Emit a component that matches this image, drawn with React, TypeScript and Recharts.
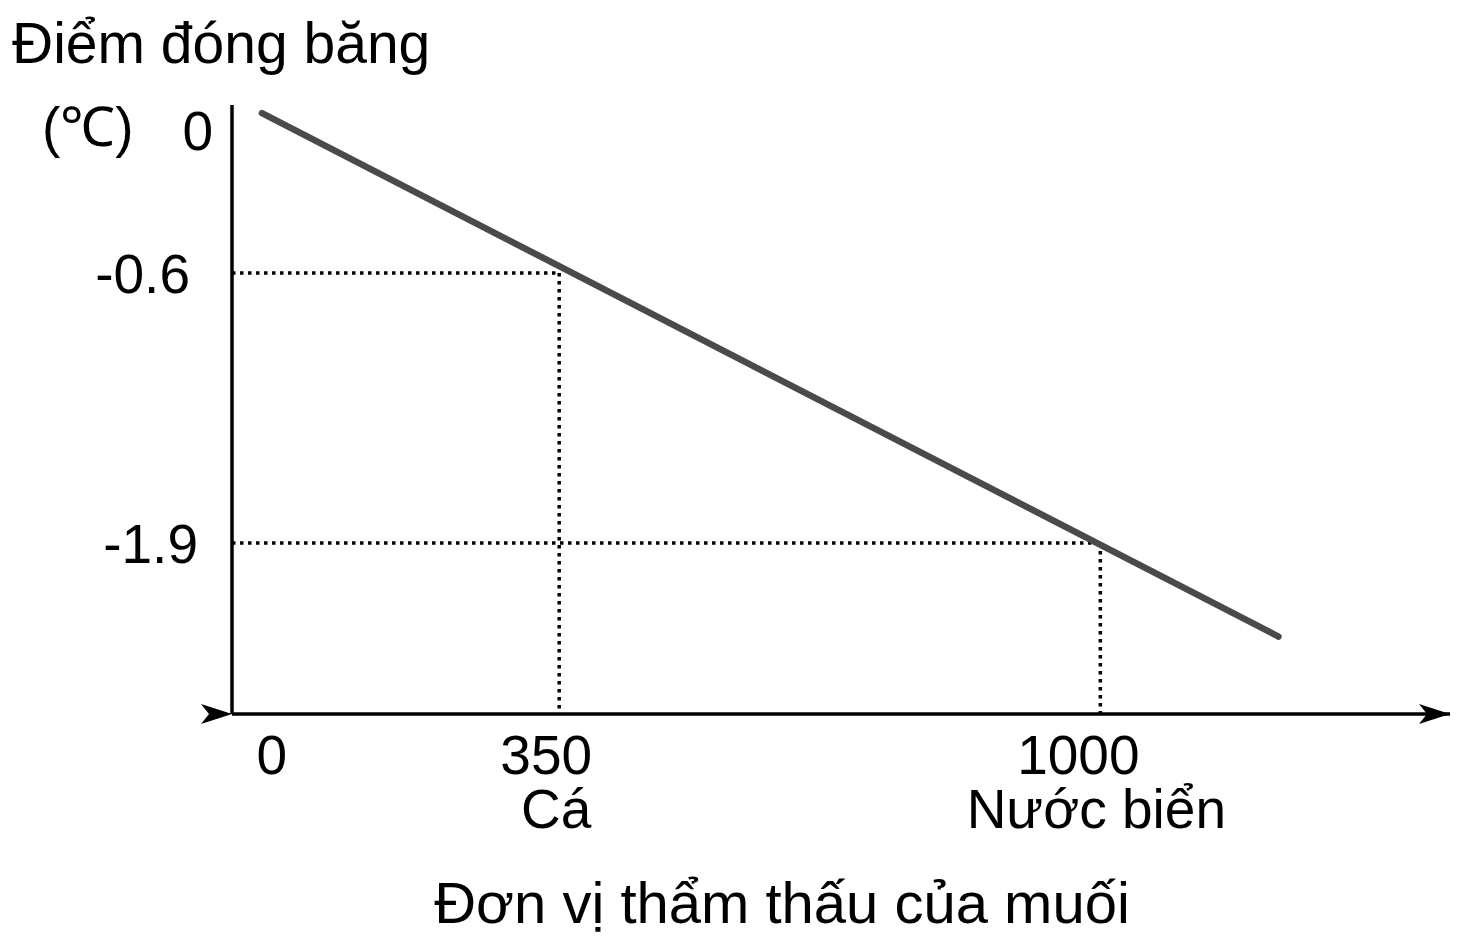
import { LineChart, Line, XAxis, YAxis, ReferenceLine, Label } from 'recharts';

// freezing-point line (x: osmolarity, y: °C)
const lineX = [-7, 1214];
const lineY = [0.17, -2.35];

// the two marked points with dotted guides
const markX = [350, 1000];
const markY = [-0.6, -1.9];

const xTicks = [0, 350, 1000];
const xTickNames = ['', 'Cá', 'Nước biển'];
const yTicks = [0, -0.6, -1.9];

const yTitle = 'Điểm đóng băng';
const yUnit = '(℃)';
const xTitle = 'Đơn vị thẩm thấu của muối';

const X_MIN = -43;
const X_MAX = 1420;
const Y_MIN = -2.723;
const Y_MAX = 0.209;

const FONT = '"Liberation Sans", Arial, sans-serif';
const FS = 55;

// small nudges so the labels sit like in the drawing
const yTickDx: Record<string, number> = { '0': -19, '-0.6': -42, '-1.9': -34 };
const yTickDy: Record<string, number> = { '0': -18, '-0.6': 0, '-1.9': 0 };
const xTickDx: Record<string, number> = { '0': 4, '350': -13, '1000': -22 };
const xNameDx: Record<string, number> = { '0': 0, '350': -3, '1000': -4 };

const data = lineX.map((x, i) => ({ x, y: lineY[i] }));

const YTick = ({ x, y, payload }: any) => {
  const k = String(payload.value);
  return (
    <text x={x + (yTickDx[k] || 0)} y={y + (yTickDy[k] || 0)} dy="0.36em" textAnchor="end"
      fontFamily={FONT} fontSize={FS} fill="#000">
      {payload.value}
    </text>
  );
};

const XTick = ({ x, y, payload }: any) => {
  const k = String(payload.value);
  const name = xTickNames[xTicks.indexOf(payload.value)];
  return (
    <g fontFamily={FONT} fontSize={FS} fill="#000" textAnchor="middle">
      <text x={x + (xTickDx[k] || 0)} y={y + 60}>{payload.value}</text>
      {name && <text x={x + (xNameDx[k] || 0)} y={y + 114}>{name}</text>}
    </g>
  );
};

const YTitle = ({ viewBox }: any) => (
  <g fontFamily={FONT} fill="#000">
    <text x={12} y={viewBox.y - 42} fontSize={57}>{yTitle}</text>
    <text x={42} y={viewBox.y + 41} fontSize={55}>{yUnit}</text>
  </g>
);

const XTitle = ({ viewBox }: any) => (
  <text x={viewBox.x + viewBox.width / 2 - 59} y={viewBox.y + 209} textAnchor="middle"
    fontFamily={FONT} fontSize={58} fill="#000">
    {xTitle}
  </text>
);

export default function App() {
  const guide = { stroke: '#000', strokeWidth: 3.5, strokeDasharray: '3.5 4.5' };
  return (
    <div style={{ position: 'absolute', left: 0, top: 0, background: '#fff' }}>
      <LineChart width={1459} height={945} data={data} margin={{ top: 105, right: 9, left: 0, bottom: 0 }}>
        <defs>
          <marker id="arrowHead" viewBox="0 0 31 20" refX={31} refY={10} markerWidth={31} markerHeight={20}
            markerUnits="userSpaceOnUse" orient="auto">
            <path d="M0,0 L31,10 L0,20 L8,10 Z" fill="#000" />
          </marker>
        </defs>
        <XAxis type="number" dataKey="x" domain={[X_MIN, X_MAX]} allowDataOverflow ticks={xTicks}
          height={231} tickSize={0} tickMargin={0} tickLine={false} tick={<XTick />}
          axisLine={{ stroke: '#000', strokeWidth: 3.5, markerStart: 'url(#arrowHead)', markerEnd: 'url(#arrowHead)' }}>
          <Label content={<XTitle />} />
        </XAxis>
        <YAxis type="number" dataKey="y" domain={[Y_MIN, Y_MAX]} allowDataOverflow ticks={yTicks}
          width={232} tickSize={0} tickMargin={0} tickLine={false} tick={<YTick />}
          axisLine={{ stroke: '#000', strokeWidth: 3.5 }}>
          <Label content={<YTitle />} />
        </YAxis>
        {markX.map((mx, i) => (
          <ReferenceLine key={`h${i}`} segment={[{ x: X_MIN, y: markY[i] }, { x: mx, y: markY[i] }]} {...guide} />
        ))}
        {markX.map((mx, i) => (
          <ReferenceLine key={`v${i}`} segment={[{ x: mx, y: markY[i] }, { x: mx, y: Y_MIN }]} {...guide} />
        ))}
        <Line type="linear" dataKey="y" stroke="#4a4a4a" strokeWidth={6.5} strokeLinecap="round"
          dot={false} activeDot={false} isAnimationActive={false} />
      </LineChart>
    </div>
  );
}
